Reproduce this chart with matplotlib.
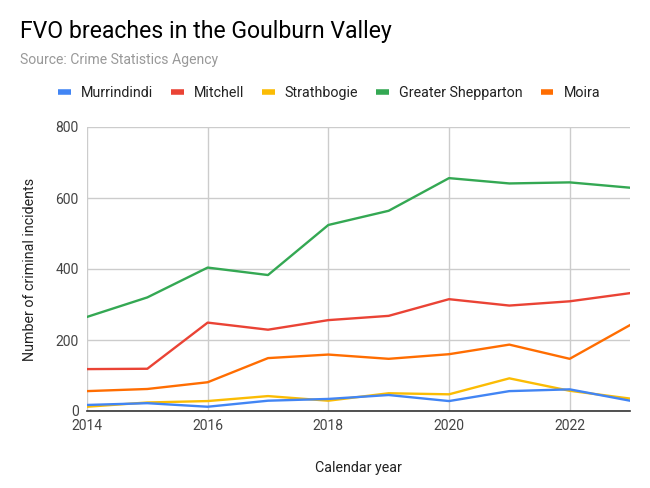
import matplotlib
matplotlib.use("Agg")
import matplotlib.pyplot as plt
from matplotlib.lines import Line2D

plt.rcParams['font.family'] = ['Roboto', 'DejaVu Sans']

years = [2014, 2015, 2016, 2017, 2018, 2019, 2020, 2021, 2022, 2023]
murrindindi = [17, 22, 12, 29, 34, 45, 28, 56, 61, 29]
mitchell = [118, 119, 249, 229, 256, 268, 315, 297, 309, 332]
strathbogie = [12, 24, 28, 42, 29, 50, 47, 92, 57, 35]
greater_shepparton = [265, 320, 404, 383, 524, 564, 656, 641, 644, 629]
moira = [56, 62, 81, 149, 159, 147, 160, 187, 147, 242]

series_names = ["Murrindindi", "Mitchell", "Strathbogie", "Greater Shepparton", "Moira"]
series_values = [murrindindi, mitchell, strathbogie, greater_shepparton, moira]
colors = ["#4285F4", "#EA4335", "#FBBC04", "#34A853", "#FF6D01"]

y_ticks = [0, 200, 400, 600, 800]
x_ticks = [2014, 2016, 2018, 2020, 2022]

fig = plt.figure(figsize=(6.5, 4.88), dpi=100)
ax = fig.add_axes([87/650, 77/488, 543/650, 284/488])

order = [4, 1, 3, 2, 0]
for i in order:
    ax.plot(years, series_values[i], color=colors[i], lw=1.7, solid_joinstyle='round', zorder=3)

ax.set_xlim(2014, 2023)
ax.set_ylim(0, 800)
ax.set_yticks(y_ticks)
ax.set_xticks(x_ticks)
ax.grid(True, color="#cccccc", lw=1)
ax.set_axisbelow(True)
for s in ["top", "right", "left"]:
    ax.spines[s].set_visible(False)
ax.spines["bottom"].set_color("#333333")
ax.spines["bottom"].set_linewidth(1.2)
ax.spines["bottom"].set_zorder(4)
ax.tick_params(axis='both', length=0, labelsize=10, labelcolor="#444444")
ax.tick_params(axis='y', pad=6)
ax.tick_params(axis='x', pad=6)

ax.set_ylabel("Number of criminal incidents", fontsize=10.3, color="#222222", labelpad=13)
ax.set_xlabel("Calendar year", fontsize=10.3, color="#222222", labelpad=20)

fig.text(20/650, 1 - 38/488, "FVO breaches in the Goulburn Valley", fontsize=16.6, color="#000000",
         ha='left', va='baseline')
fig.text(20/650, 1 - 64/488, "Source: Crime Statistics Agency", fontsize=10.1, color="#999999",
         ha='left', va='baseline')

handles = [Line2D([0], [0], color=c, lw=4, solid_capstyle='butt') for c in colors]
fig.legend(handles, series_names, loc='center', bbox_to_anchor=(0.506, 1 - 93/488), ncol=5,
           frameon=False, fontsize=10.3, handlelength=0.9, handletextpad=0.7, columnspacing=1.25,
           labelcolor="#222222")

fig.savefig("out.png", dpi=100)
